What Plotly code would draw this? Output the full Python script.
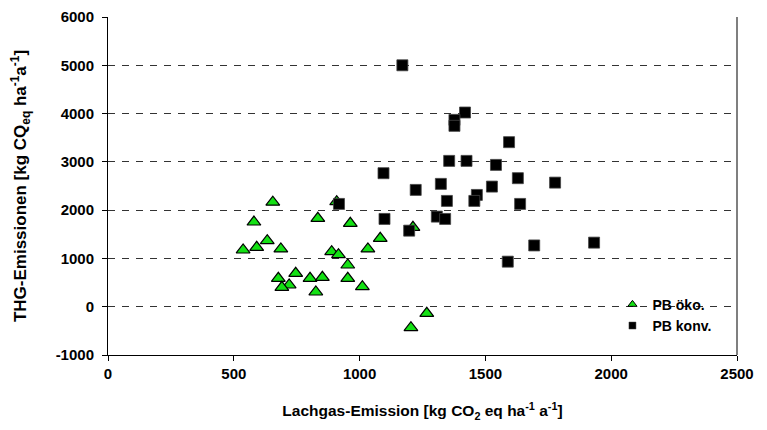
import plotly.graph_objects as go

# PB öko. (triangles)
oeko_x = [655, 580, 834, 963, 909, 633, 591, 537, 687, 889, 916, 1033, 1082, 1212,
          953, 746, 677, 720, 691, 803, 852, 826, 953, 1011, 1204, 1267]
oeko_y = [2164, 1754, 1831, 1727, 2175, 1368, 1230, 1175, 1196, 1140, 1078, 1196, 1417, 1645,
          864, 692, 588, 450, 402, 588, 609, 305, 588, 415, -435, -137]

# PB konv. (squares)
konv_x = [1170, 1419, 1377, 1377, 1594, 1356, 1425, 1542, 1095, 1629, 1777, 1323, 1526,
          1223, 1347, 1466, 1456, 1638, 918, 1099, 1307, 1340, 1197, 1694, 1589, 1932]
konv_y = [5000, 4022, 3870, 3746, 3408, 3020, 3020, 2937, 2765, 2662, 2570, 2544, 2488,
          2419, 2191, 2315, 2191, 2129, 2129, 1818, 1866, 1818, 1575, 1269, 933, 1327]

x_ticks = [0, 500, 1000, 1500, 2000, 2500]
y_ticks = [-1000, 0, 1000, 2000, 3000, 4000, 5000, 6000]

FONT = "Liberation Sans"
GREEN = "rgb(20,225,20)"

fig = go.Figure()
fig.add_trace(go.Scatter(
    x=oeko_x, y=oeko_y, mode="markers", name="PB öko.", showlegend=False,
    marker=dict(symbol="triangle-up", size=12, color=GREEN,
                line=dict(color="black", width=1.2)),
))
fig.add_trace(go.Scatter(
    x=konv_x, y=konv_y, mode="markers", name="PB konv.", showlegend=False,
    marker=dict(symbol="square", size=11, color="black",
                line=dict(color="#444", width=0.8)),
))
# legend-only entries with smaller symbols
fig.add_trace(go.Scatter(
    x=[None], y=[None], mode="markers", name="<b>PB öko.</b>",
    marker=dict(symbol="triangle-up", size=8, color=GREEN,
                line=dict(color="black", width=1)),
))
fig.add_trace(go.Scatter(
    x=[None], y=[None], mode="markers", name="<b>PB konv.</b>",
    marker=dict(symbol="square", size=7, color="black",
                line=dict(color="#444", width=0.5)),
))

fig.update_layout(
    width=767, height=430,
    margin=dict(l=100, r=38, t=9, b=83, autoexpand=False),
    paper_bgcolor="white", plot_bgcolor="white",
    font=dict(family=FONT, size=14, color="black"),
    showlegend=True,
    legend=dict(x=0.802, y=0.196, xanchor="left", yanchor="top",
                bgcolor="rgba(0,0,0,0)", borderwidth=0,
                font=dict(family=FONT, size=14, color="black"),
                itemsizing="trace"),
    xaxis=dict(
        range=[0, 2500], tickvals=x_ticks, ticktext=[f"<b>{v}</b>" for v in x_ticks],
        tickfont=dict(family=FONT, size=15), automargin=False,
        showgrid=False, zeroline=False, showline=True, linecolor="black", linewidth=1,
        ticks="outside", ticklen=5, tickcolor="black",
        title=dict(text="<b>Lachgas-Emission [kg CO<sub>2</sub> eq ha<sup>-1</sup> a<sup>-1</sup>]</b>",
                   font=dict(family=FONT, size=15.5), standoff=24),
        fixedrange=True,
    ),
    yaxis=dict(
        range=[-1000, 6000], tickvals=y_ticks, ticktext=[f"<b>{v}</b>" for v in y_ticks],
        tickfont=dict(family=FONT, size=15), automargin=False,
        ticklabelstandoff=5,
        showgrid=True, gridcolor="#333", griddash="7px,7px", gridwidth=1,
        zeroline=False, showline=True, linecolor="black", linewidth=1,
        ticks="outside", ticklen=5, tickcolor="black",
        title=dict(text="<b>THG-Emissionen [kg CQ<sub>eq</sub> ha<sup>-1</sup>a<sup>-1</sup>]</b>",
                   font=dict(family=FONT, size=17), standoff=35),
        fixedrange=True,
    ),
)

# right border line
fig.add_shape(type="line", xref="paper", yref="paper", x0=1, x1=1, y0=0, y1=1,
              line=dict(color="#555", width=1.5))

fig.write_html("out.html")
